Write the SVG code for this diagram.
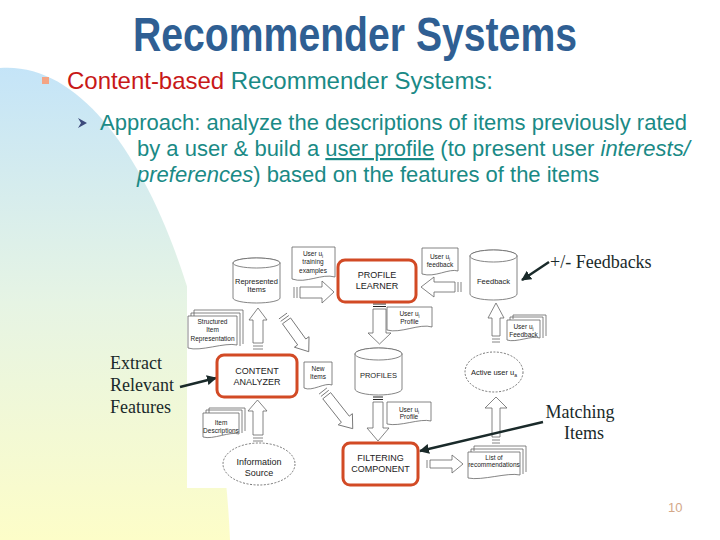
<svg xmlns="http://www.w3.org/2000/svg" width="720" height="540" viewBox="0 0 720 540">
<defs>
<linearGradient id="bg" x1="0" y1="65" x2="0" y2="540" gradientUnits="userSpaceOnUse">
<stop offset="0" stop-color="#c4e4f8"/>
<stop offset="0.5" stop-color="#e6f4e4"/>
<stop offset="1" stop-color="#fdfdc8"/>
</linearGradient>
<marker id="ah" viewBox="0 0 10 10" refX="9" refY="5" markerWidth="4" markerHeight="4" orient="auto" markerUnits="strokeWidth">
<path d="M0,0 L10,5 L0,10 Z" fill="#1a2a2a"/>
</marker>
<g id="diagArrow">
<line x1="0" y1="-5" x2="0" y2="5"/>
<line x1="3" y1="-5" x2="3" y2="5"/>
</g>
</defs>
<style>
.title{font-family:"Liberation Sans Narrow","Liberation Sans",Arial,sans-serif;font-weight:bold;font-size:48px;fill:#2f5f93}
.b1{font-family:"Liberation Sans",Arial,sans-serif;font-size:24px}
.b2{font-family:"Liberation Sans",Arial,sans-serif;font-size:22px;fill:#1a8a86}
.red{fill:#c81818}
.teal{fill:#1a8a86}
.ann{font-family:"Liberation Serif","Times New Roman",serif;font-size:18px;fill:#1a2a2a}
.ln{fill:#fff;stroke:#666;stroke-width:0.8}
.ol{fill:none;stroke:#666;stroke-width:0.8}
.dsh{fill:#fff;stroke:#555;stroke-width:0.8;stroke-dasharray:2,1.5}
.box{fill:#fff;stroke:#d24a25;stroke-width:3}
.nl{font-family:"Liberation Sans",Arial,sans-serif;font-size:9px;fill:#222;text-anchor:middle}
.cl{font-family:"Liberation Sans",Arial,sans-serif;font-size:7.5px;fill:#222;text-anchor:middle}
.dl{font-family:"Liberation Sans",Arial,sans-serif;font-size:6.5px;fill:#222;text-anchor:middle}
.eq{stroke:#222;stroke-width:1}
.pa{stroke:#1a2a2a;stroke-width:2.5;fill:none;marker-end:url(#ah)}
</style>
<rect width="720" height="540" fill="#fff"/>
<path d="M0,68 C125,58 220,300 230,540 L0,540 Z" fill="url(#bg)"/>
<rect x="187" y="241" width="370" height="247" fill="#fff"/>

<text class="title" x="355" y="51" text-anchor="middle" textLength="444" lengthAdjust="spacingAndGlyphs">Recommender Systems</text>
<rect x="42" y="77" width="7" height="7" fill="#f4a484"/>
<text class="b1" x="67" y="89" textLength="426"><tspan class="red">Content-based</tspan><tspan class="teal"> Recommender Systems:</tspan></text>
<polygon points="78,118 87,123 78,128 81,123" fill="#3c4a7c"/>
<text class="b2" x="100" y="130">Approach: analyze the descriptions of items previously rated</text>
<text class="b2" x="137" y="156">by a user &amp; build a <tspan text-decoration="underline">user profile</tspan> (to present user <tspan font-style="italic">interests/</tspan></text>
<text class="b2" x="137" y="182"><tspan font-style="italic">preferences</tspan>) based on the features of the items</text>

<g id="connectors">
<!-- training examples -> profile learner -->
<g class="ln"><polygon points="300,287 322,287 322,281 334,292 322,303 322,298 300,298"/><line x1="294" y1="287" x2="294" y2="298"/><line x1="297" y1="287" x2="297" y2="298"/></g>
<!-- feedback -> profile learner -->
<g class="ln"><polygon points="455,282 434,282 434,277 421,287 434,297 434,292 455,292"/><line x1="458" y1="282" x2="458" y2="292"/><line x1="461" y1="282" x2="461" y2="292"/></g>
<!-- profile learner -> profiles -->
<g class="ln"><polygon points="373,309 373,333 368,333 379.5,344 391,333 386,333 386,309"/></g>
<line class="eq" x1="373" y1="304" x2="386" y2="304"/><line class="eq" x1="373" y1="306.5" x2="386" y2="306.5"/>
<!-- profiles -> filtering -->
<g class="ln"><polygon points="373,402 373,428 367,428 378,441 389,428 383,428 383,402"/></g>
<line class="eq" x1="373" y1="397" x2="383" y2="397"/><line class="eq" x1="373" y1="399.5" x2="383" y2="399.5"/>
<!-- filtering -> list -->
<g class="ln"><polygon points="430,460 452,460 452,455 463,464 452,473 452,468 430,468"/><line x1="427" y1="460" x2="427" y2="468"/></g>
<!-- list -> active user -->
<g class="ln"><polygon points="492,437 492,408 485,408 496,397 507,408 500,408 500,437"/><line x1="492" y1="440" x2="500" y2="440"/><line x1="492" y1="443" x2="500" y2="443"/></g>
<!-- active user -> feedback -->
<g class="ln"><polygon points="492,336 492,318 488,318 496,303 504,318 500,318 500,336"/><line x1="492" y1="339" x2="500" y2="339"/><line x1="492" y1="342" x2="500" y2="342"/></g>
<!-- content analyzer -> represented items -->
<g class="ln"><polygon points="253,343 253,320 249,320 258,308 267,320 263,320 263,343"/><line x1="253" y1="346" x2="263" y2="346"/><line x1="253" y1="349" x2="263" y2="349"/></g>
<!-- information source -> content analyzer -->
<g class="ln"><polygon points="253,435 253,411 248,411 257.5,400 267,411 263,411 263,435"/><line x1="253" y1="438" x2="263" y2="438"/><line x1="253" y1="441" x2="263" y2="441"/></g>
<!-- represented items -> new items (diagonal) -->
<g class="ln" transform="translate(283,316) rotate(54.2)"><polygon points="6,-5 32,-5 32,-9 44,0 32,9 32,5 6,5"/><line x1="0" y1="-5" x2="0" y2="5"/><line x1="3" y1="-5" x2="3" y2="5"/></g>
<!-- new items -> filtering (diagonal) -->
<g class="ln" transform="translate(323,391) rotate(51.7)"><polygon points="6,-5 36,-5 36,-9 48,0 36,9 36,5 6,5"/><line x1="0" y1="-5" x2="0" y2="5"/><line x1="3" y1="-5" x2="3" y2="5"/></g>
<!-- annotation pointers -->
<line class="pa" x1="549" y1="262" x2="522" y2="280"/>
<line class="pa" x1="180" y1="387" x2="216" y2="378"/>
<line class="pa" x1="543" y1="422" x2="420" y2="451"/>
</g>

<g id="represented-items">
<path class="ln" d="M233,263 V298 A23.5,5 0 0 0 280,298 V263 A23.5,5 0 0 0 233,263 Z"/>
<ellipse class="ln" cx="256.5" cy="263" rx="23.5" ry="5"/>
<text class="cl" x="256.5" y="284">Represented</text>
<text class="cl" x="256.5" y="292">Items</text>
</g>

<g id="training-examples">
<path class="ln" d="M292,247 H335 V277 C322,273 306,284 292,279 Z"/>
<text class="dl" x="313" y="256">User u<tspan font-size="4.5" dy="1.5">i</tspan></text>
<text class="dl" x="313" y="264">training</text>
<text class="dl" x="313" y="273">examples</text>
</g>

<g id="profile-learner">
<rect class="box" x="338" y="260" width="78" height="42" rx="7"/>
<text class="nl" x="377" y="278">PROFILE</text>
<text class="nl" x="377" y="289">LEARNER</text>
</g>

<g id="user-feedback-top">
<path class="ln" d="M422,248 H458 V271 C449,268 435,278 422,274 Z"/>
<text class="dl" x="440" y="259">User u<tspan font-size="4.5" dy="1.5">i</tspan></text>
<text class="dl" x="440" y="267">feedback</text>
</g>

<g id="feedback">
<path class="ln" d="M470,256 V294 A23.5,6 0 0 0 517,294 V256 A23.5,6 0 0 0 470,256 Z"/>
<ellipse class="ln" cx="493.5" cy="256" rx="23.5" ry="6"/>
<text class="cl" x="493.5" y="284">Feedback</text>
</g>

<g id="structured-item">
<polyline class="ol" points="194,316 194,310 243,310 243,344"/>
<polyline class="ol" points="191,318 191,313 240,313 240,346"/>
<path class="ln" d="M188,316 H237 V345 C225,342 200,352 188,348 Z"/>
<text class="dl" x="212.5" y="324">Structured</text>
<text class="dl" x="212.5" y="332">Item</text>
<text class="dl" x="212.5" y="341">Representation</text>
</g>

<g id="user-profile-1">
<path class="ln" d="M387,307 H432 V327 C420,323 400,334 387,330 Z"/>
<text class="dl" x="409.5" y="316">User u<tspan font-size="4.5" dy="1.5">i</tspan></text>
<text class="dl" x="409.5" y="324">Profile</text>
</g>

<g id="user-feedback-right">
<polyline class="ol" points="513,319 513,315 546,315 546,336"/>
<polyline class="ol" points="510,320 510,317 543,317 543,338"/>
<path class="ln" d="M507,320 H540 V338 C532,335 516,343 507,340 Z"/>
<text class="dl" x="523.5" y="329">User u<tspan font-size="4.5" dy="1.5">i</tspan></text>
<text class="dl" x="523.5" y="337">Feedback</text>
</g>

<g id="content-analyzer">
<rect class="box" x="217" y="355" width="80" height="42" rx="7"/>
<text class="nl" x="257" y="374">CONTENT</text>
<text class="nl" x="257" y="385">ANALYZER</text>
</g>

<g id="new-items">
<path class="ln" d="M304,362 H332 V385 C325,382 312,392 304,388 Z"/>
<text class="dl" x="318" y="371">New</text>
<text class="dl" x="318" y="379">Items</text>
</g>

<g id="profiles">
<path class="ln" d="M355,354 V389 A23.5,6 0 0 0 402,389 V354 A23.5,6 0 0 0 355,354 Z"/>
<ellipse class="ln" cx="378.5" cy="354" rx="23.5" ry="6"/>
<text class="cl" x="378.5" y="378">PROFILES</text>
</g>

<g id="active-user">
<ellipse class="dsh" cx="494" cy="372" rx="29" ry="20"/>
<text class="cl" x="494" y="375">Active user u<tspan font-size="5" dy="1.5">a</tspan></text>
</g>

<g id="user-profile-2">
<path class="ln" d="M387,402 H431 V421 C420,418 400,427 387,424 Z"/>
<text class="dl" x="409" y="412">User u<tspan font-size="4.5" dy="1.5">i</tspan></text>
<text class="dl" x="409" y="419">Profile</text>
</g>

<g id="item-descriptions">
<polyline class="ol" points="209,413 209,408 245,408 245,431"/>
<polyline class="ol" points="206,414 206,410 242,410 242,433"/>
<path class="ln" d="M203,413 H239 V434 C230,431 213,440 203,437 Z"/>
<text class="dl" x="221" y="425">Item</text>
<text class="dl" x="221" y="433">Descriptions</text>
</g>

<g id="information-source">
<ellipse class="dsh" cx="259" cy="464" rx="36" ry="21"/>
<text class="nl" x="259" y="465" font-size="8.5">Information</text>
<text class="nl" x="259" y="476" font-size="8.5">Source</text>
</g>

<g id="filtering-component">
<rect class="box" x="343" y="443" width="75" height="42" rx="7"/>
<text class="nl" x="380.5" y="461">FILTERING</text>
<text class="nl" x="380.5" y="472">COMPONENT</text>
</g>

<g id="list-of-recommendations">
<polyline class="ol" points="474,451 474,446 526,446 526,472"/>
<polyline class="ol" points="471,452 471,449 523,449 523,474"/>
<path class="ln" d="M468,452 H520 V475 C508,472 482,481 468,478 Z"/>
<text class="dl" x="494" y="460" font-size="6">List of</text>
<text class="dl" x="494" y="467" font-size="6">recommendations</text>
</g>

<g id="annotations">
<text class="ann" x="550" y="268">+/- Feedbacks</text>
<text class="ann" x="110" y="369">Extract</text>
<text class="ann" x="110" y="391">Relevant</text>
<text class="ann" x="110" y="413">Features</text>
<text class="ann" x="580" y="418" text-anchor="middle">Matching</text>
<text class="ann" x="584" y="439" text-anchor="middle">Items</text>
</g>

<text x="668" y="512" font-family="Liberation Sans, Arial, sans-serif" font-size="13" fill="#d4a888">10</text>
</svg>
